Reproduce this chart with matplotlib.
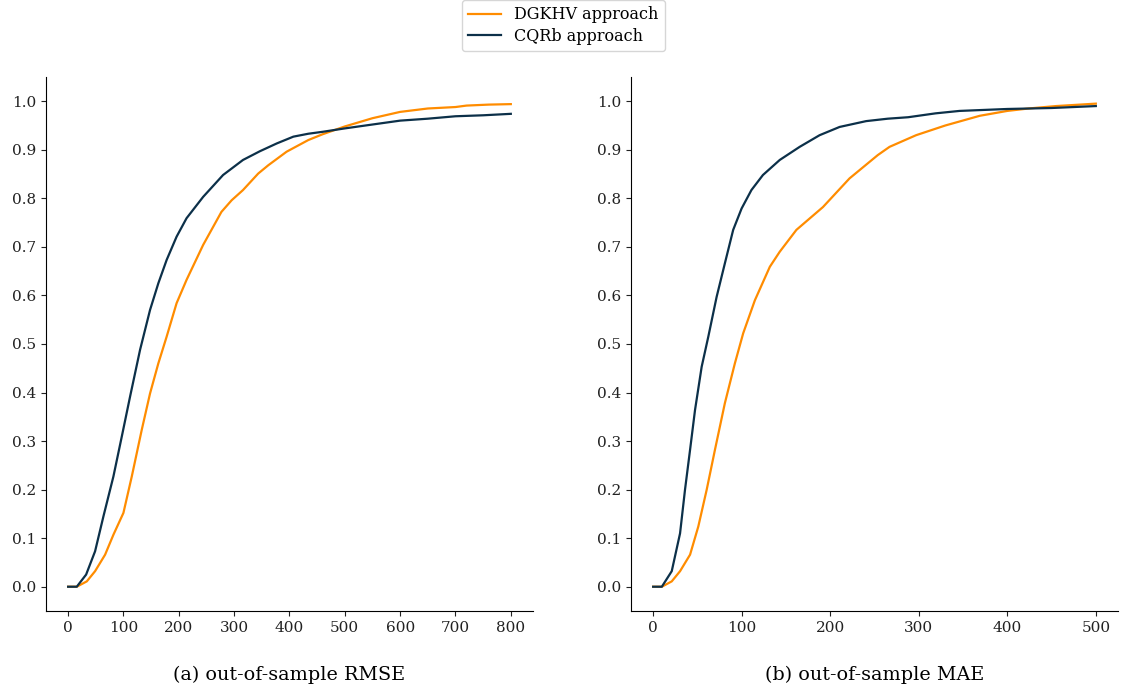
import matplotlib
matplotlib.use("Agg")
import matplotlib.pyplot as plt

plt.rcParams["font.family"] = ["DejaVu Serif"]

# values (cumulative share vs error)
rmse_dgkhv_x = [0, 15.6, 33.7, 48.7, 66.8, 81.8, 99.9, 115, 133, 148, 163, 178, 196, 214, 244, 277, 295.5, 316, 343.5, 361.6, 394.8, 434, 460, 500, 550, 600, 650, 700, 720, 760, 800]
rmse_dgkhv_y = [0, 0, 0.011, 0.032, 0.066, 0.107, 0.152, 0.227, 0.323, 0.398, 0.460, 0.515, 0.584, 0.632, 0.704, 0.772, 0.796, 0.817, 0.851, 0.868, 0.896, 0.920, 0.932, 0.948, 0.965, 0.978, 0.985, 0.988, 0.991, 0.993, 0.994]
rmse_cqrb_x = [0, 15.6, 32.5, 48.7, 63.8, 81.8, 96.9, 112, 130, 148, 163, 178, 196, 214, 244, 280, 316, 346.6, 377, 407, 434, 460, 500, 550, 600, 650, 700, 750, 800]
rmse_cqrb_y = [0, 0, 0.025, 0.073, 0.145, 0.227, 0.309, 0.392, 0.488, 0.570, 0.625, 0.673, 0.721, 0.759, 0.803, 0.848, 0.879, 0.897, 0.913, 0.927, 0.933, 0.937, 0.944, 0.952, 0.960, 0.964, 0.969, 0.971, 0.974]

mae_dgkhv_x = [0, 9.8, 21, 30.4, 41.7, 51, 60.5, 69.8, 81, 92.3, 101.7, 114.9, 131.8, 143, 161.8, 191.8, 221.8, 253.7, 267, 297, 330, 369, 400, 424, 455, 500]
mae_dgkhv_y = [0, 0, 0.011, 0.032, 0.066, 0.124, 0.200, 0.282, 0.378, 0.460, 0.522, 0.590, 0.659, 0.690, 0.735, 0.782, 0.841, 0.889, 0.906, 0.930, 0.950, 0.970, 0.980, 0.985, 0.990, 0.995]
mae_cqrb_x = [0, 9.8, 21, 30.4, 36, 41.7, 47.3, 54.8, 62.3, 71.7, 81, 90.4, 99.9, 111, 124, 143, 165.5, 188, 210.6, 240.6, 265, 288, 319, 346, 400, 450, 500]
mae_cqrb_y = [0, 0, 0.032, 0.110, 0.200, 0.282, 0.364, 0.453, 0.515, 0.597, 0.666, 0.735, 0.779, 0.817, 0.848, 0.879, 0.906, 0.930, 0.947, 0.959, 0.964, 0.967, 0.975, 0.980, 0.984, 0.986, 0.990]

labels = ["DGKHV approach", "CQRb approach"]
captions = ["(a) out-of-sample RMSE", "(b) out-of-sample MAE"]
orange = "#ff8c00"
navy = "#0c3049"

fig = plt.figure(figsize=(11.22, 6.9), dpi=100)
ax1 = fig.add_axes([0.041, 0.1145, 0.434, 0.774])
ax2 = fig.add_axes([0.5624, 0.1145, 0.434, 0.774])

panels = [
    (ax1, rmse_dgkhv_x, rmse_dgkhv_y, rmse_cqrb_x, rmse_cqrb_y, [0, 100, 200, 300, 400, 500, 600, 700, 800]),
    (ax2, mae_dgkhv_x, mae_dgkhv_y, mae_cqrb_x, mae_cqrb_y, [0, 100, 200, 300, 400, 500]),
]

for i, (ax, ox, oy, nx, ny, xt) in enumerate(panels):
    ax.plot(ox, oy, color=orange, lw=1.6, label=labels[0])
    ax.plot(nx, ny, color=navy, lw=1.6, label=labels[1])
    ax.set_xticks(xt)
    ax.set_yticks([k / 10 for k in range(11)])
    ax.set_ylim(-0.05, 1.05)
    ax.spines["top"].set_visible(False)
    ax.spines["right"].set_visible(False)
    ax.tick_params(labelsize=11, colors="#222222")
    ax.set_xlabel(captions[i], fontsize=13.75, labelpad=22)

h, l = ax1.get_legend_handles_labels()
fig.legend(h, l, loc="upper center", bbox_to_anchor=(0.502, 1.012), fontsize=11.5,
           handlelength=2.1, labelspacing=0.3, frameon=True)

fig.savefig("out.png", dpi=100)
